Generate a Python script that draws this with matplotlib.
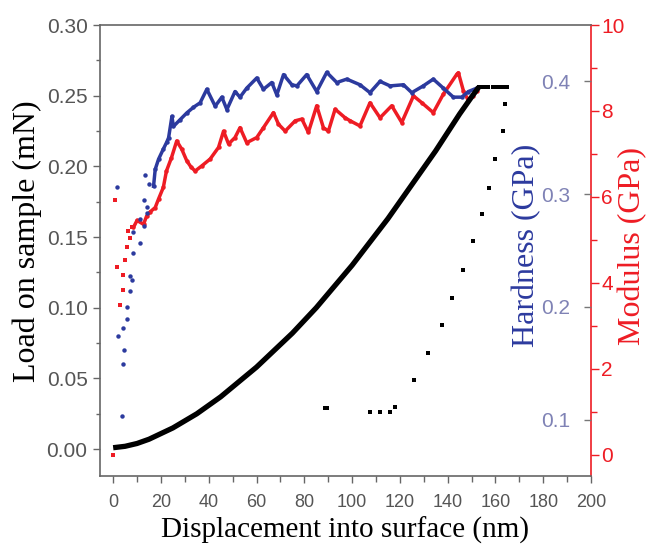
import matplotlib
matplotlib.use("Agg")
import matplotlib.pyplot as plt
from matplotlib.ticker import MultipleLocator

# load-displacement curve (black)
load_x = [0, 5, 10, 15, 20, 25, 30, 35, 40, 45, 50, 55, 60, 65, 70, 75, 80, 85,
          90, 95, 100, 105, 110, 115, 120, 125, 130, 135, 140, 145, 150, 153]
load_y = [0.001, 0.002, 0.004, 0.007, 0.011, 0.015, 0.020, 0.025, 0.031, 0.037,
          0.044, 0.051, 0.058, 0.066, 0.074, 0.082, 0.091, 0.100, 0.110, 0.120,
          0.130, 0.141, 0.152, 0.163, 0.175, 0.187, 0.199, 0.211, 0.224, 0.237,
          0.249, 0.256]
hold_x = [153, 154, 155, 156, 157, 159, 160, 161, 162, 163, 164, 165]
hold_y = [0.256] * 12
unload_x = [164.0, 163.0, 159.8, 157.3, 154.5, 150.7, 146.3, 141.8, 137.7, 131.8,
            126.0, 118.0, 116.0, 111.7, 107.5, 88.5, 89.5]
unload_y = [0.244, 0.225, 0.205, 0.185, 0.166, 0.147, 0.127, 0.107, 0.088, 0.068,
            0.049, 0.030, 0.026, 0.026, 0.026, 0.029, 0.029]

# hardness (blue), early scattered points and the continuous part
hard_x_scatter = [1.5, 2.2, 3.6, 4.3, 4.6, 4.3, 5.7, 5.7, 7.1, 7.1, 7.8, 8.5, 8.5,
                  11.3, 11.3, 12.7, 12.7, 14.0, 14.0, 13.4, 14.8]
hard_y_scatter = [0.306, 0.174, 0.103, 0.149, 0.162, 0.181, 0.189, 0.200, 0.214,
                  0.227, 0.224, 0.248, 0.266, 0.257, 0.278, 0.272, 0.295, 0.283,
                  0.289, 0.317, 0.309]
hard_x = [16.9, 17.6, 19.0, 21.0, 22.4, 23.2, 24.6, 25.2, 28.0, 30.8, 33.6, 36.4,
          39.2, 42.7, 45.5, 47.6, 51.0, 53.1, 55.9, 60.1, 62.9, 66.4, 68.5, 71.3,
          74.8, 76.9, 81.0, 85.2, 89.4, 93.6, 97.8, 103.3, 107.5, 111.7, 115.9,
          121.5, 125.0, 129.8, 134.0, 138.2, 142.4, 145.9, 148.7, 152.2]
hard_y = [0.307, 0.322, 0.331, 0.340, 0.346, 0.350, 0.369, 0.360, 0.366, 0.372,
          0.377, 0.381, 0.393, 0.378, 0.386, 0.375, 0.391, 0.386, 0.394, 0.403,
          0.393, 0.399, 0.388, 0.406, 0.397, 0.396, 0.406, 0.391, 0.408, 0.399,
          0.402, 0.397, 0.390, 0.400, 0.396, 0.397, 0.390, 0.396, 0.402, 0.394,
          0.386, 0.386, 0.391, 0.394]

# modulus (red)
mod_x_scatter = [0.1, 0.8, 1.5, 2.9, 4.1, 4.3, 5.0, 5.7, 6.4, 7.1, 7.8]
mod_y_scatter = [0.0, 5.92, 4.36, 3.47, 3.83, 4.19, 4.53, 4.82, 5.20, 5.05, 5.29]
mod_x = [8.5, 10.0, 12.7, 14.0, 15.5, 17.6, 19.0, 21.0, 22.3, 24.4, 26.6, 28.7,
         30.8, 32.5, 34.3, 37.1, 40.6, 44.1, 46.2, 48.3, 51.0, 53.1, 55.9, 60.1,
         62.9, 67.1, 69.2, 72.0, 76.2, 79.0, 81.7, 85.2, 88.0, 90.1, 92.9, 97.1,
         99.2, 103.3, 107.5, 111.7, 116.6, 120.8, 125.7, 129.2, 134.0, 138.2,
         143.8, 144.5, 146.6, 148.6, 150.5, 152.2]
mod_y = [5.29, 5.45, 5.36, 5.55, 5.65, 5.75, 5.95, 6.22, 6.60, 6.91, 7.30, 7.11,
         6.84, 6.70, 6.60, 6.72, 6.88, 7.15, 7.53, 7.23, 7.38, 7.61, 7.26, 7.38,
         7.61, 7.96, 7.69, 7.53, 7.77, 7.81, 7.50, 8.12, 7.61, 7.53, 8.04, 7.84,
         7.77, 7.65, 8.19, 7.84, 8.12, 7.73, 8.35, 8.19, 7.96, 8.39, 8.85, 8.89,
         8.47, 8.25, 8.35, 8.47]

blue = '#2c3a9e'
red = '#ee1c24'
grey = '#555555'
serif = 'Liberation Serif'
sans = 'Liberation Sans'

fig = plt.figure(figsize=(6.47, 5.52), dpi=100)
ax = fig.add_axes([0.1546, 0.1377, 0.7588, 0.817])
axm = ax.twinx()
axh = ax.twinx()

# hardness and modulus
axh.plot(hard_x_scatter, hard_y_scatter, 'o', color=blue, ms=3.2, mew=0)
axh.plot(hard_x, hard_y, '-o', color=blue, lw=2.5, ms=3.2, mew=0)
axm.plot(mod_x_scatter, mod_y_scatter, 's', color=red, ms=3.2, mew=0)
axm.plot(mod_x, mod_y, '-o', color=red, lw=2.5, ms=3.2, mew=0)

# load curve
ax.plot(load_x, load_y, color='black', lw=3.8, solid_capstyle='butt')
ax.plot(hold_x, hold_y, 's', color='black', ms=3.2, mew=0)
ax.plot(unload_x, unload_y, 's', color='black', ms=3.4, mew=0)
ax.set_zorder(3)
ax.patch.set_visible(False)

ax.set_xlim(-5.5, 200)
ax.set_ylim(-0.019, 0.30)
axm.set_ylim(-0.5, 10)
axh.set_ylim(0.05, 0.45)

ax.xaxis.set_major_locator(MultipleLocator(20))
ax.xaxis.set_minor_locator(MultipleLocator(10))
ax.yaxis.set_major_locator(MultipleLocator(0.05))
ax.yaxis.set_minor_locator(MultipleLocator(0.025))
ax.yaxis.set_major_formatter(plt.FormatStrFormatter('%.2f'))
axm.yaxis.set_major_locator(MultipleLocator(2))
axm.yaxis.set_minor_locator(MultipleLocator(1))
axh.set_yticks([0.1, 0.2, 0.3, 0.4])

for s in ['left', 'bottom', 'top']:
    ax.spines[s].set_color('#666666')
    ax.spines[s].set_linewidth(1.2)
ax.spines['right'].set_visible(False)
axm.spines['right'].set_color(red)
axm.spines['right'].set_linewidth(1.2)
for s in ['left', 'bottom', 'top']:
    axm.spines[s].set_visible(False)

# hardness axis drawn on the inner side of the right spine
axh.yaxis.tick_left()
axh.spines['left'].set_position(('axes', 1.0))
axh.spines['left'].set_visible(False)
for s in ['right', 'bottom', 'top']:
    axh.spines[s].set_visible(False)

ax.tick_params(axis='x', which='major', length=5, width=1, color='#666666',
               pad=8, labelsize=13, labelcolor=grey)
ax.tick_params(axis='x', which='minor', length=4, width=1, color='#666666')
ax.tick_params(axis='y', which='major', length=5, width=1, color='#666666',
               pad=4, labelsize=15, labelcolor=grey)
ax.tick_params(axis='y', which='minor', length=3, width=1, color='#666666')
axm.tick_params(axis='y', which='major', length=6, width=1, color=red,
                pad=1.5, labelsize=15, labelcolor=red)
axm.tick_params(axis='y', which='minor', length=4, width=1, color=red)
axh.tick_params(axis='y', which='major', length=5, width=1, color='#777777',
                pad=10, labelsize=15, labelcolor='#7f82b5')
axh.tick_params(axis='y', which='minor', left=False)

for a in (ax, axm, axh):
    for lab in a.get_xticklabels() + a.get_yticklabels():
        lab.set_fontfamily(sans)
axh.yaxis.set_major_formatter(plt.FormatStrFormatter('%.1f'))

ax.set_xlabel('Displacement into surface (nm)', fontsize=21, family=serif)
ax.xaxis.set_label_coords(0.5, -0.12)
ax.xaxis.label.set_va('center')
ax.set_ylabel('Load on sample (mN)', fontsize=23, family=serif, va='center')
ax.yaxis.set_label_coords(-0.1487, 0.521)
axh.set_ylabel('Hardness (GPa)', fontsize=23, family=serif, color=blue,
               va='center')
axh.yaxis.set_label_coords(0.8697, 0.512)
axm.set_ylabel('Modulus (GPa)', fontsize=23, family=serif, color=red,
               va='center', rotation=90)
axm.yaxis.set_label_coords(1.0855, 0.51)

fig.savefig('out.png', dpi=100)
